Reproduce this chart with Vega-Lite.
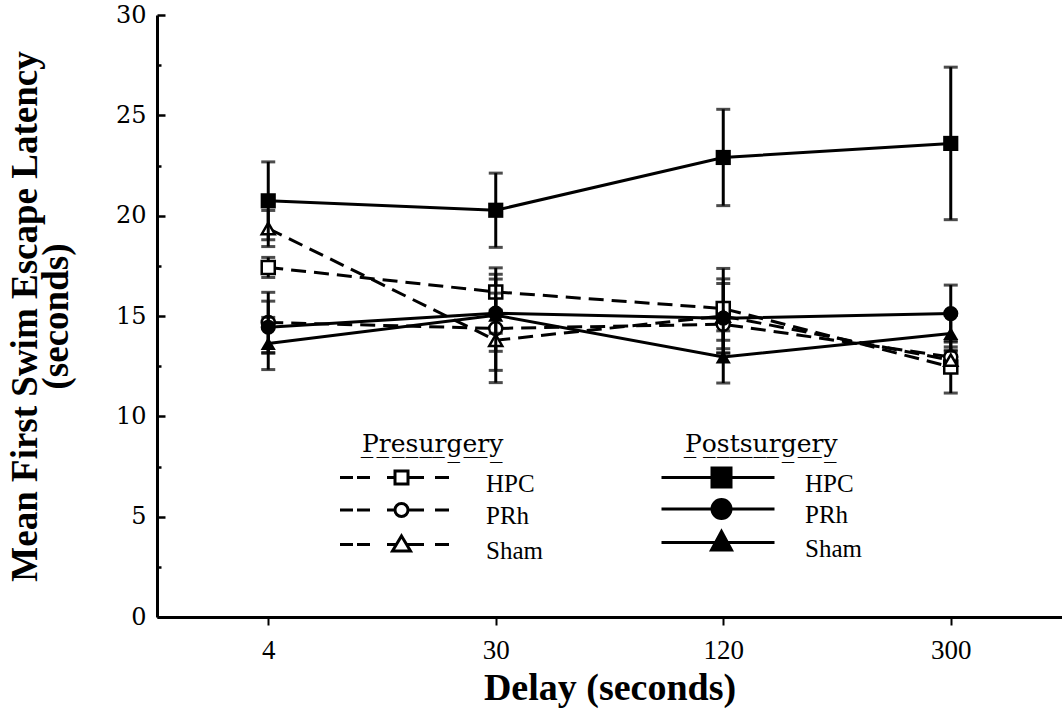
{
  "$schema": "https://vega.github.io/schema/vega-lite/v6.json",
  "width": 905,
  "height": 602,
  "autosize": {"type": "none"},
  "padding": {"left": 157, "top": 15, "right": 0, "bottom": 102},
  "background": "white",
  "config": {
    "view": {"stroke": null},
    "axis": {"grid": false, "domainColor": "black", "tickColor": "black", "labelColor": "black", "titleColor": "black"},
    "legend": {"padding": 0}
  },
  "datasets": {
    "latency": [
      {"period": "Presurgery", "group": "HPC", "delay": 4, "mean": 17.42, "err": 0.5},
      {"period": "Presurgery", "group": "HPC", "delay": 30, "mean": 16.2, "err": 1.2},
      {"period": "Presurgery", "group": "HPC", "delay": 120, "mean": 15.37, "err": 2.0},
      {"period": "Presurgery", "group": "HPC", "delay": 300, "mean": 12.46, "err": 1.3},
      {"period": "Presurgery", "group": "PRh", "delay": 4, "mean": 14.68, "err": 1.5},
      {"period": "Presurgery", "group": "PRh", "delay": 30, "mean": 14.38, "err": 2.7},
      {"period": "Presurgery", "group": "PRh", "delay": 120, "mean": 14.59, "err": 0.8},
      {"period": "Presurgery", "group": "PRh", "delay": 300, "mean": 12.96, "err": 0.5},
      {"period": "Presurgery", "group": "Sham", "delay": 4, "mean": 19.36, "err": 0.9},
      {"period": "Presurgery", "group": "Sham", "delay": 30, "mean": 13.79, "err": 1.5},
      {"period": "Presurgery", "group": "Sham", "delay": 120, "mean": 15.0, "err": 1.85},
      {"period": "Presurgery", "group": "Sham", "delay": 300, "mean": 12.8, "err": 0.5},
      {"period": "Postsurgery", "group": "HPC", "delay": 4, "mean": 20.74, "err": 1.94},
      {"period": "Postsurgery", "group": "HPC", "delay": 30, "mean": 20.27, "err": 1.85},
      {"period": "Postsurgery", "group": "HPC", "delay": 120, "mean": 22.9, "err": 2.4},
      {"period": "Postsurgery", "group": "HPC", "delay": 300, "mean": 23.6, "err": 3.8},
      {"period": "Postsurgery", "group": "PRh", "delay": 4, "mean": 14.44, "err": 1.3},
      {"period": "Postsurgery", "group": "PRh", "delay": 30, "mean": 15.14, "err": 1.0},
      {"period": "Postsurgery", "group": "PRh", "delay": 120, "mean": 14.89, "err": 1.73},
      {"period": "Postsurgery", "group": "PRh", "delay": 300, "mean": 15.12, "err": 1.42},
      {"period": "Postsurgery", "group": "Sham", "delay": 4, "mean": 13.63, "err": 1.3},
      {"period": "Postsurgery", "group": "Sham", "delay": 30, "mean": 15.04, "err": 1.8},
      {"period": "Postsurgery", "group": "Sham", "delay": 120, "mean": 12.96, "err": 1.3},
      {"period": "Postsurgery", "group": "Sham", "delay": 300, "mean": 14.13, "err": 0.9}
    ]
  },
  "data": {"name": "latency"},
  "encoding": {
    "x": {
      "field": "delay",
      "type": "ordinal",
      "scale": {"type": "point", "padding": 0.489},
      "axis": {
        "title": "Delay (seconds)",
        "titleFont": "Liberation Serif",
        "titleFontSize": 38,
        "titleFontWeight": "bold",
        "titlePadding": 6,
        "labelFont": "Liberation Serif",
        "labelFontSize": 27,
        "labelAngle": 0,
        "labelPadding": 12,
        "tickSize": 8,
        "tickWidth": 2,
        "domainWidth": 3
      }
    },
    "y": {
      "field": "mean",
      "type": "quantitative",
      "scale": {"domain": [0, 30], "nice": false, "zero": true},
      "axis": {
        "title": ["Mean First Swim Escape Latency", "(seconds)"],
        "titleFont": "Liberation Serif",
        "titleFontSize": 37,
        "titleFontWeight": "bold",
        "titleLineHeight": 31,
        "titlePadding": 40,
        "values": [0, 2.5, 5, 7.5, 10, 12.5, 15, 17.5, 20, 22.5, 25, 27.5, 30],
        "labelExpr": "datum.value % 5 === 0 ? datum.label : ''",
        "labelFont": "DejaVu Serif",
        "labelFontSize": 24,
        "labelPadding": 19,
        "labelFlush": false,
        "labelOverlap": false,
        "tickSize": {"condition": {"test": "datum.value % 5 === 0", "value": -8}, "value": -4},
        "tickWidth": 2.5,
        "domainWidth": 3
      }
    }
  },
  "layer": [
    {
      "transform": [{"filter": "datum.period === 'Presurgery'"}],
      "layer": [
        {
          "mark": {"type": "errorbar", "ticks": true, "size": 14, "thickness": 3, "color": "black"},
          "encoding": {"yError": {"field": "err"}}
        },
        {
          "mark": {"type": "line", "color": "black", "strokeWidth": 3, "strokeDash": [15, 8]},
          "encoding": {"detail": {"field": "group", "type": "nominal"}}
        },
        {
          "mark": {"type": "point", "filled": true, "fill": "white", "stroke": "black", "strokeWidth": 2.5, "size": 170, "opacity": 1},
          "encoding": {
            "shape": {
              "field": "group",
              "type": "nominal",
              "scale": {"domain": ["HPC", "PRh", "Sham"], "range": ["square", "circle", "triangle-up"]},
              "legend": null
            }
          }
        }
      ]
    },
    {
      "transform": [{"filter": "datum.period === 'Postsurgery'"}],
      "layer": [
        {
          "mark": {"type": "errorbar", "ticks": true, "size": 14, "thickness": 3, "color": "black"},
          "encoding": {"yError": {"field": "err"}}
        },
        {
          "mark": {"type": "line", "color": "black", "strokeWidth": 3},
          "encoding": {"detail": {"field": "group", "type": "nominal"}}
        },
        {
          "mark": {"type": "point", "filled": true, "color": "black", "size": 230, "opacity": 1},
          "encoding": {
            "shape": {
              "field": "group",
              "type": "nominal",
              "scale": {"domain": ["HPC", "PRh", "Sham"], "range": ["square", "circle", "triangle-up"]},
              "legend": null
            }
          }
        }
      ]
    },
    {
      "transform": [{"filter": "datum.period === 'Presurgery' && datum.delay < 0"}],
      "mark": {"type": "point", "filled": false, "color": "black", "strokeWidth": 3, "size": 400, "opacity": 1},
      "encoding": {
        "shape": {
          "field": "group",
          "type": "nominal",
          "scale": {
            "domain": ["HPC", "PRh", "Sham"],
            "range": [
              "M-6.15,-0.6H-4.85M-4.45,-0.6H-3.15M-1.45,-0.6H-0.65M0.65,-0.6H2.25M3.35,-0.6H4.75M-0.65,-1.25H0.65V0.05H-0.65Z",
              "M-6.15,-0.6H-4.85M-4.45,-0.6H-3.15M-1.45,-0.6H-0.65M0.65,-0.6H2.25M3.35,-0.6H4.75M0.65,-0.6A0.65,0.65 0 1,1 -0.65,-0.6A0.65,0.65 0 1,1 0.65,-0.6Z",
              "M-6.15,-0.6H-4.85M-4.45,-0.6H-3.15M-1.45,-0.6H-0.55M0.55,-0.6H2.25M3.35,-0.6H4.75M0,-1.45L0.9,0.05L-0.9,0.05Z"
            ]
          },
          "legend": {
            "orient": "none",
            "legendX": 205,
            "legendY": 417,
            "title": "P̲r̲e̲s̲u̲r̲g̲e̲r̲y̲",
            "titleFont": "DejaVu Serif",
            "titleFontSize": 25,
            "titleFontWeight": "normal",
            "titleColor": "black",
            "titlePadding": 14,
            "labelFont": "Liberation Serif",
            "labelFontSize": 25,
            "labelColor": "black",
            "labelOffset": 72,
            "symbolOffset": 27,
            "symbolSize": 400,
            "symbolStrokeWidth": 3,
            "symbolOpacity": 1,
            "rowPadding": 0.5
          }
        }
      }
    },
    {
      "transform": [{"filter": "datum.period === 'Postsurgery' && datum.delay < 0"}],
      "mark": {"type": "point", "filled": false, "color": "black", "fill": "black", "strokeWidth": 3, "size": 400, "opacity": 1},
      "encoding": {
        "shape": {
          "field": "group",
          "type": "nominal",
          "scale": {
            "domain": ["HPC", "PRh", "Sham"],
            "range": [
              "M-6,-0.6H5.3M-0.95,-1.55H0.95V0.35H-0.95Z",
              "M-6,-0.6H5.3M0.95,-0.6A0.95,0.95 0 1,1 -0.95,-0.6A0.95,0.95 0 1,1 0.95,-0.6Z",
              "M-6,-0.6H5.3M0,-1.7L1.0,0.15L-1.0,0.15Z"
            ]
          },
          "legend": {
            "orient": "none",
            "legendX": 528,
            "legendY": 417,
            "title": "P̲o̲s̲t̲s̲u̲r̲g̲e̲r̲y̲",
            "titleFont": "DejaVu Serif",
            "titleFontSize": 25,
            "titleFontWeight": "normal",
            "titleColor": "black",
            "titlePadding": 14,
            "labelFont": "Liberation Serif",
            "labelFontSize": 25,
            "labelColor": "black",
            "labelOffset": 71,
            "symbolOffset": 24,
            "symbolSize": 400,
            "symbolStrokeWidth": 3,
            "symbolOpacity": 1,
            "rowPadding": -3.5
          }
        }
      }
    }
  ],
  "resolve": {"scale": {"shape": "independent"}, "legend": {"shape": "independent"}}
}
